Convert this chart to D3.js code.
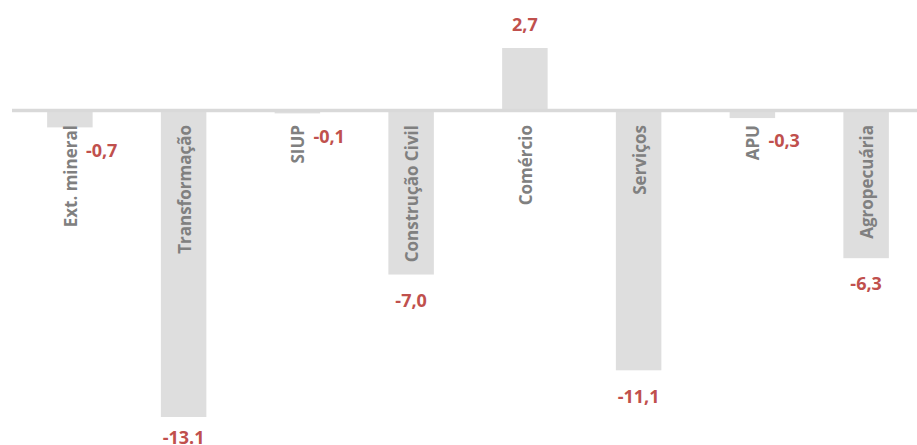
<!DOCTYPE html>
<html>
<head>
<meta charset="utf-8">
<script src="https://cdn.jsdelivr.net/npm/d3@7"></script>
<style>
  html, body { margin: 0; padding: 0; background: #fff; }
  svg { display: block; }
  text { font-family: "Open Sans", "DejaVu Sans", sans-serif; font-weight: 700; }
</style>
</head>
<body>
<svg id="chart" width="917" height="445"></svg>
<script>
// Sector contributions (percentage change)
const categories = ["Ext. mineral", "Transformação", "SIUP", "Construção Civil", "Comércio", "Serviços", "APU", "Agropecuária"];
const values = [-0.7, -13.1, -0.1, -7.0, 2.7, -11.1, -0.3, -6.3];
const valueLabels = ["-0,7", "-13.1", "-0,1", "-7,0", "2,7", "-11,1", "-0,3", "-6,3"];
// small bars carry their value beside the category name instead of centred under it
const besideName = [true, false, true, false, false, false, true, false];

const W = 917, H = 445;
const svg = d3.select("#chart");

const x = d3.scaleBand()
  .domain(categories)
  .range([13, 923])
  .paddingInner(0.6)
  .paddingOuter(0.3);

const y = d3.scaleLinear()
  .domain([-13.1, 2.7])
  .range([417, 48]);

const y0 = y(0);

// bars
svg.append("g").selectAll("rect")
  .data(values)
  .join("rect")
  .attr("x", (d, i) => x(categories[i]))
  .attr("width", x.bandwidth())
  .attr("y", d => Math.min(y(d), y0))
  .attr("height", d => Math.abs(y(d) - y0))
  .attr("fill", "#dedede");

// zero line
svg.append("line")
  .attr("x1", 12).attr("x2", W)
  .attr("y1", y0 - 0.5).attr("y2", y0 - 0.5)
  .attr("stroke", "#d9d9d9")
  .attr("stroke-width", 3.5);

// category names, rotated, hanging below the zero line
svg.append("g").selectAll("text")
  .data(categories)
  .join("text")
  .attr("transform", d => `translate(${x(d) + x.bandwidth() / 2 + 1},${y0 + 14}) rotate(-90)`)
  .attr("text-anchor", "end")
  .attr("dy", "0.35em")
  .attr("fill", "#808080")
  .attr("font-size", 17)
  .text(d => d);

// value labels
svg.append("g").selectAll("text")
  .data(values)
  .join("text")
  .attr("x", (d, i) => x(categories[i]) + x.bandwidth() / 2 + (besideName[i] ? 16 : 0))
  .attr("y", (d, i) => d >= 0 ? y(d) - 23 : Math.min(y(d) + (besideName[i] ? 23 : 26), H - 7))
  .attr("text-anchor", (d, i) => besideName[i] ? "start" : "middle")
  .attr("dy", "0.35em")
  .attr("fill", "#c0504d")
  .attr("font-size", 18)
  .text((d, i) => valueLabels[i]);
</script>
</body>
</html>
